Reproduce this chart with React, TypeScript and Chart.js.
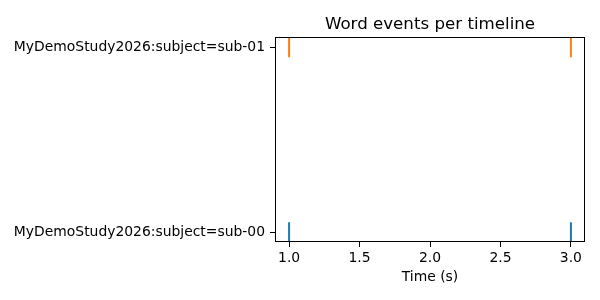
import React, { useEffect, useRef } from "react";
import { Chart, registerables } from "chart.js";

Chart.register(...registerables);

const timelines = ["MyDemoStudy2026:subject=sub-00", "MyDemoStudy2026:subject=sub-01"];
const sub00Events = [1.0, 3.0];
const sub01Events = [1.0, 3.0];
const eventSeries = [sub00Events, sub01Events];
const seriesColors = ["#1f77b4", "#ff7f0e"];
const xTicks = [1.0, 1.5, 2.0, 2.5, 3.0];
const yTicks = [0, 1];
const titleText = "Word events per timeline";
const xTitle = "Time (s)";
const LINE_HALF = 0.054;

const FONT = "'DejaVu Sans', sans-serif";

const framePlugin = {
  id: "frame",
  afterDraw(chart: any) {
    const { ctx, chartArea: a } = chart;
    ctx.save();
    ctx.strokeStyle = "#000";
    ctx.lineWidth = 1;
    ctx.strokeRect(Math.round(a.left) + 0.5, Math.round(a.top) + 0.5, Math.round(a.right - a.left) - 1, Math.round(a.bottom - a.top) - 1);
    ctx.fillStyle = "#000";
    ctx.font = `16.67px ${FONT}`;
    ctx.textAlign = "center";
    ctx.textBaseline = "alphabetic";
    ctx.fillText(titleText, (a.left + a.right) / 2, 29);
    ctx.restore();
  },
};

export default function App() {
  const ref = useRef<HTMLCanvasElement>(null);
  useEffect(() => {
    if (!ref.current) return;
    const datasets = eventSeries.map((events, i) => {
      const data: any[] = [];
      events.forEach((t) => {
        data.push({ x: t, y: i - LINE_HALF });
        data.push({ x: t, y: i + LINE_HALF });
        data.push({ x: t, y: null });
      });
      return {
        label: timelines[i],
        data,
        borderColor: seriesColors[i],
        backgroundColor: seriesColors[i],
        borderWidth: 2,
        pointRadius: 0,
        spanGaps: false,
        showLine: true,
        fill: false,
      };
    });
    const chart = new Chart(ref.current, {
      type: "line",
      data: { datasets },
      options: {
        animation: false,
        responsive: false,
        layout: { padding: { top: 37, right: 15, left: 0, bottom: 0 } },
        plugins: { legend: { display: false }, tooltip: { enabled: false }, title: { display: false } },
        scales: {
          x: {
            type: "linear",
            min: 0.9,
            max: 3.1,
            border: { display: false },
            grid: { drawOnChartArea: false, drawTicks: true, tickLength: 5, color: "#000", tickColor: "#000", lineWidth: 1 },
            afterBuildTicks: (s: any) => { s.ticks = xTicks.map((v) => ({ value: v })); },
            afterFit: (s: any) => { s.height = 58; },
            ticks: {
              color: "#000",
              padding: 3,
              maxRotation: 0,
              font: { family: FONT, size: 13.9 },
              callback: (v: any) => Number(v).toFixed(1),
            },
            title: { display: true, text: xTitle, color: "#000", font: { family: FONT, size: 13.9 }, padding: { top: 0, bottom: 14 } },
          },
          y: {
            type: "linear",
            min: -0.053,
            max: 1.055,
            border: { display: false },
            grid: { drawOnChartArea: false, drawTicks: true, tickLength: 5, color: "#000", tickColor: "#000", lineWidth: 1 },
            afterBuildTicks: (s: any) => { s.ticks = yTicks.map((v) => ({ value: v })); },
            afterFit: (s: any) => { s.width = 275; },
            ticks: {
              color: "#000",
              padding: 5,
              font: { family: FONT, size: 13.9 },
              callback: (v: any) => timelines[Math.round(Number(v))] ?? "",
            },
          },
        },
      },
      plugins: [framePlugin],
    });
    return () => chart.destroy();
  }, []);
  return (
    <div style={{ position: "absolute", left: 0, top: 0, width: 600, height: 300, background: "#fff" }}>
      <canvas ref={ref} width={600} height={300} />
    </div>
  );
}
